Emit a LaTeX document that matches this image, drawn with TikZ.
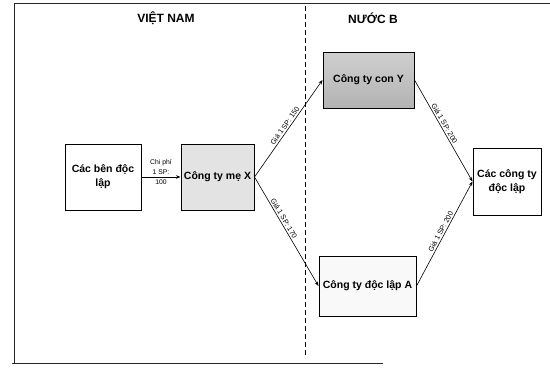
\documentclass[tikz,border=0pt]{standalone}
\usepackage{fontspec}
\setmainfont{Liberation Sans}
\usetikzlibrary{arrows.meta}
\begin{document}
\begin{tikzpicture}[x=1pt,y=-1pt,
  box/.style={draw=black, line width=1pt, align=center, inner sep=1pt,
    font=\bfseries\fontsize{10.5}{14}\selectfont},
  conn/.style={line width=0.6pt, -{Stealth[length=4.5pt,width=3.5pt]}},
  lbl/.style={font=\fontsize{7.2}{8}\selectfont, sloped, above, inner sep=1.5pt},
  head/.style={font=\bfseries\fontsize{12}{14}\selectfont},
  frame/.style={line width=1pt, draw=black!85}]
\useasboundingbox (0,0) rectangle (550,368);
% frame
\draw[frame] (550,3.5) -- (14.5,3.5) -- (14.5,363);
\draw[frame] (12,363) -- (383,363);
% dashed separator
\draw[line width=0.8pt, dash pattern=on 5pt off 3pt] (305,6) -- (305,357);
% headings
\node[head] (vn) at (166,18) {VIỆT NAM};
\node[head] (nb) at (373,18) {NƯỚC B};
% nodes
\node[box, minimum width=76pt, minimum height=66pt, fill=white] (cbdl) at (103,177) {Các bên độc\\lập};
\node[box, minimum width=73pt, minimum height=66pt, fill=gray!22] (mex) at (217.5,177) {Công ty mẹ X};
\node[box, minimum width=91pt, minimum height=56pt, top color=gray!38, bottom color=gray!60] (cony) at (368.5,80) {Công ty con Y};
\node[box, minimum width=97pt, minimum height=60pt, fill=gray!5] (dla) at (367.5,286) {Công ty độc lập A};
\node[box, minimum width=68pt, minimum height=67pt, fill=white] (ccdl) at (507,181.5) {Các công ty\\độc lập};
% connectors
\draw[conn] (cbdl.east) -- (mex.west)
  node[midway, yshift=5pt, align=center, inner sep=0pt, font=\fontsize{6.8}{10}\selectfont] (l0) {Chi phí\\1 SP:\\100};
\draw[conn] (mex.east) -- (cony.west) node[lbl, pos=0.5] (l1) {Giá 1 SP: 150};
\draw[conn] (mex.east) -- (dla.west) node[lbl, pos=0.4] (l2) {Giá 1 SP: 170};
\draw[conn] (cony.east) -- (ccdl.west) node[lbl, pos=0.45] (l3) {Giá 1 SP: 200};
\draw[conn] (dla.east) -- (ccdl.west) node[lbl, pos=0.5] (l4) {Giá 1 SP: 200};
\end{tikzpicture}
\end{document}
